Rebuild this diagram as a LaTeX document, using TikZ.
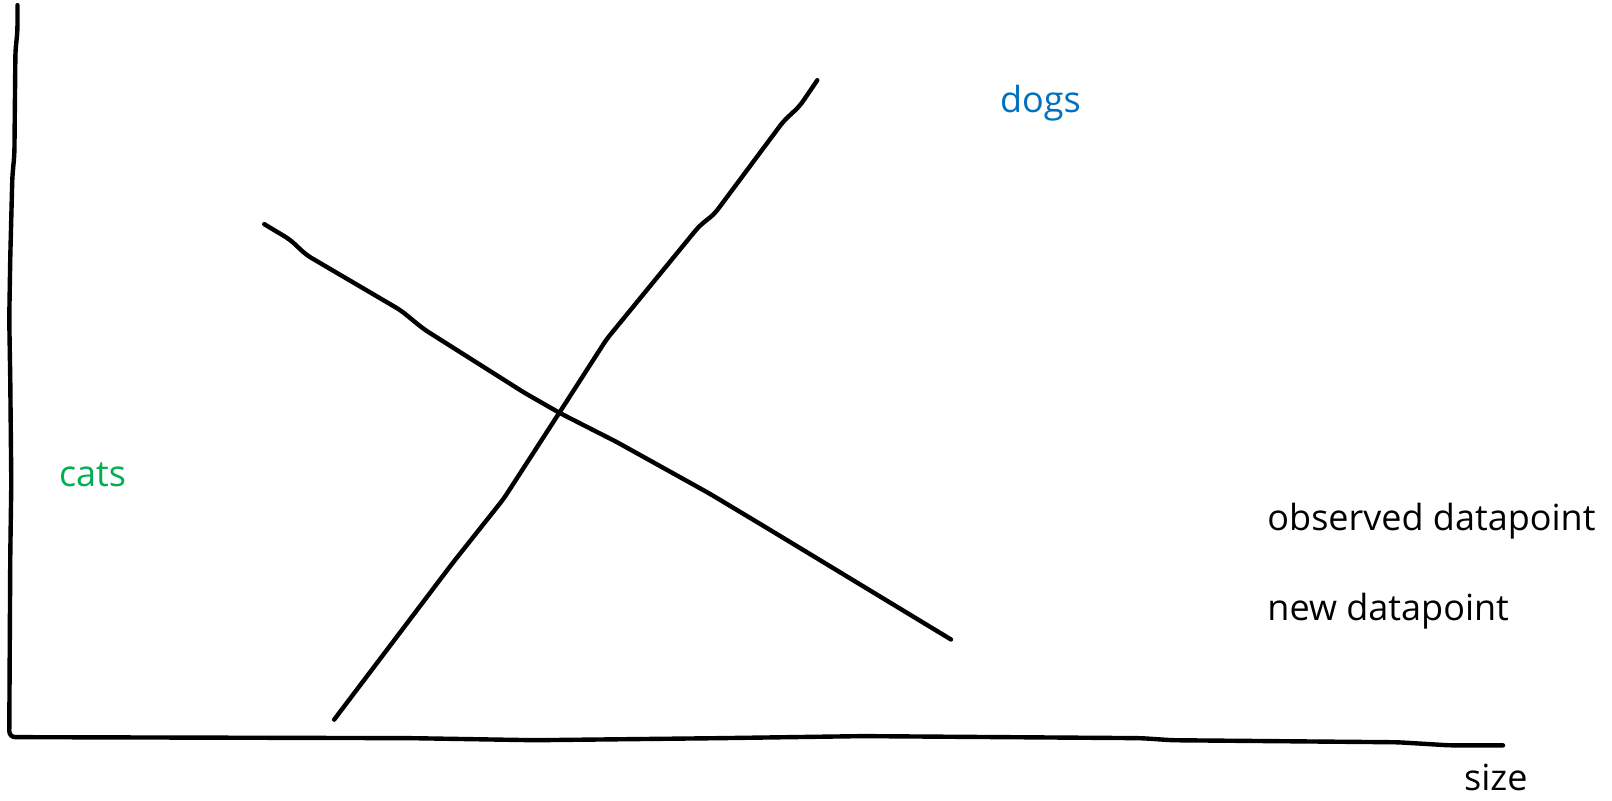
\documentclass[tikz,border=0pt]{standalone}
\usepackage{fontspec}
\setmainfont{Open Sans}
\usepackage{tikz}
\usetikzlibrary{calc, positioning}
\usepackage{xcolor}
\definecolor{catgreen}{RGB}{0, 176, 80}
\definecolor{dogblue}{RGB}{0, 112, 192}

\begin{document}
\begin{tikzpicture}[x=0.514pt, y=-0.514pt, font=\fontsize{18}{21}\selectfont,
    sketch/.style={line width=2.2pt, black, rounded corners=3pt, line cap=round}]
  \useasboundingbox (0, 0) rectangle (1568, 779);

  % axes
  \draw[sketch] (17, 5) -- (17, 30) -- (15, 50) -- (14, 150) -- (12, 172)
    -- (10, 250) -- (9, 310) -- (10, 370) -- (11, 470) -- (10, 540) -- (9, 717)
    -- (400, 718) -- (520, 720) -- (700, 718) -- (840, 716) -- (1110, 718)
    -- (1140, 720) -- (1360, 722) -- (1410, 725) -- (1462, 725);

  % decision lines
  \draw[sketch] (325, 700) -- (440, 548) -- (490, 485) -- (545, 400) -- (590, 330)
    -- (680, 220) -- (695, 208) -- (762, 118) -- (778, 103) -- (795, 78);
  \draw[sketch] (257, 218) -- (282, 233) -- (298, 248) -- (390, 302) -- (412, 320)
    -- (510, 382) -- (545, 402) -- (600, 430) -- (690, 480) -- (750, 516) -- (925, 622);

  \node[text=dogblue] (dogs) at (1012, 100) {dogs};
  \node[text=catgreen] (cats) at (90, 462) {cats};
  \node[anchor=west] (observed) at (1226, 507) {observed datapoint};
  \node[anchor=west] (new) at (1226, 594) {new datapoint};
  \node[inner sep=1pt] (size) at (1455, 756) {size};
\end{tikzpicture}
\end{document}
